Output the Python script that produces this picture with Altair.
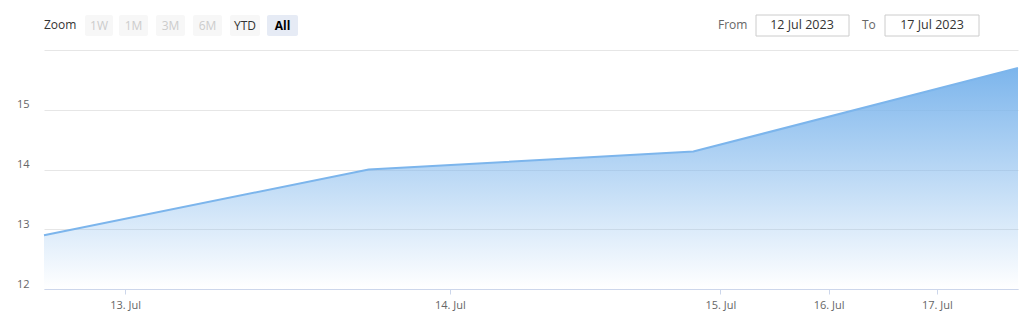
import altair as alt
import numpy as np
import pandas as pd

# ---- data ----
dates = ["2023-07-12 18:00", "2023-07-13 18:00", "2023-07-14 18:00", "2023-07-17 18:00"]
values = [12.9, 14.0, 14.3, 15.7]
tick_dates = ["2023-07-13", "2023-07-14", "2023-07-15", "2023-07-16", "2023-07-17"]
tick_labels = ["13. Jul", "14. Jul", "15. Jul", "16. Jul", "17. Jul"]
y_ticks = [12, 13, 14, 15, 16]
buttons = ["1W", "1M", "3M", "6M", "YTD", "All"]
from_label = "12 Jul 2023"
to_label = "17 Jul 2023"

# ordinal (Highcharts-stock style) axis: points equally spaced
t_pts = pd.to_datetime(pd.Series(dates)).astype("int64").to_numpy()
t_ticks = pd.to_datetime(pd.Series(tick_dates)).astype("int64").to_numpy()
idx = np.arange(len(dates))
tick_pos = [float(v) for v in np.interp(t_ticks, t_pts, idx)]

df = pd.DataFrame({"pos": idx, "date": dates, "value": values})

keys = [int(round(p * 1000)) for p in tick_pos]
label_expr = "[" + ",".join("'%s'" % l for l in tick_labels) + "][indexof([" + \
    ",".join(str(k) for k in keys) + "], round(datum.value*1000))]"

FONT = "Open Sans"
LEFT, TOP = 44, 50
W, H = 974, 239

x_enc = alt.X("pos:Q", scale=alt.Scale(domain=[0, len(dates) - 1], nice=False, zero=False),
              axis=alt.Axis(values=tick_pos, labelExpr=label_expr, title=None, grid=False,
                            domainColor="#ccd6eb", tickColor="#ccd6eb", tickSize=5,
                            labelColor="#666666", labelFontSize=11, labelFont=FONT,
                            labelPadding=5))
y_enc = alt.Y("value:Q", scale=alt.Scale(domain=[12, 16], nice=False, zero=False),
              axis=alt.Axis(values=y_ticks, title=None, grid=True, gridColor="#e6e6e6",
                            domain=False, ticks=False, labelAlign="right", labelPadding=15,
                            labelBaseline="alphabetic", labelOffset=-2, format="d",
                            labelExpr="datum.value == 16 ? '' : datum.label",
                            labelColor="#666666", labelFontSize=11, labelFont=FONT))

area = alt.Chart(df).mark_area(
    color=alt.Gradient(gradient="linear",
                       stops=[alt.GradientStop(color="#7cb5ec", offset=0),
                              alt.GradientStop(color="rgba(124,181,236,0)", offset=1)],
                       x1=1, x2=1, y1=0, y2=1),
    opacity=1,
).encode(x=x_enc, y=y_enc, y2=alt.datum(12))

line = alt.Chart(df).mark_line(color="#7cb5ec", strokeWidth=2).encode(x="pos:Q", y="value:Q")

dummy = alt.InlineData(values=[{"a": 1}])


def px(x):
    return x - LEFT


def py(y):
    return y - TOP


def rect(x0, x1, y0, y1, fill, stroke=None, radius=0):
    kw = dict(fill=fill, cornerRadius=radius)
    if stroke:
        kw.update(stroke=stroke, strokeWidth=1)
    return alt.Chart(dummy).mark_rect(**kw).encode(
        x=alt.value(px(x0)), x2=alt.value(px(x1)),
        y=alt.value(py(y0)), y2=alt.value(py(y1)))


def text(s, x, y, color="#333333", size=12, align="center", weight="normal"):
    return alt.Chart(dummy).mark_text(align=align, baseline="middle", font=FONT,
                                      fontSize=size, color=color, fontWeight=weight).encode(
        x=alt.value(px(x)), y=alt.value(py(y)), text=alt.value(s))


deco = [text("Zoom", 44, 25, color="#333333", size=12, align="left")]
btn_x = [85, 119, 156, 193, 230, 267]
btn_w = [28, 29, 29, 29, 30, 31]
for b, bx, bw in zip(buttons, btn_x, btn_w):
    if b == "All":
        fill, col, wt = "#e6ebf5", "#000000", "bold"
    elif b == "YTD":
        fill, col, wt = "#f7f7f7", "#333333", "normal"
    else:
        fill, col, wt = "#f7f7f7", "#cccccc", "normal"
    deco.append(rect(bx, bx + bw, 15, 36, fill, radius=2))
    deco.append(text(b, bx + bw / 2, 25.5, color=col, size=12, weight=wt))

deco.append(text("From", 718, 25, color="#666666", size=12, align="left"))
deco.append(rect(756, 849, 15, 36, "#ffffff", stroke="#cccccc"))
deco.append(text(from_label, 802, 25, color="#333333", size=12.5))
deco.append(text("To", 862, 25, color="#666666", size=12, align="left"))
deco.append(rect(885, 979, 15, 36, "#ffffff", stroke="#cccccc"))
deco.append(text(to_label, 932, 25, color="#333333", size=12.5))

chart = alt.layer(area, line, *deco).properties(
    width=W, height=H,
    padding={"left": LEFT, "top": TOP, "right": 1028 - LEFT - W, "bottom": 324 - TOP - H},
    autosize="none",
    background="#ffffff",
).configure_view(strokeWidth=0, stroke="transparent")

chart.save("out.html", embed_options={"renderer": "svg", "actions": False})
